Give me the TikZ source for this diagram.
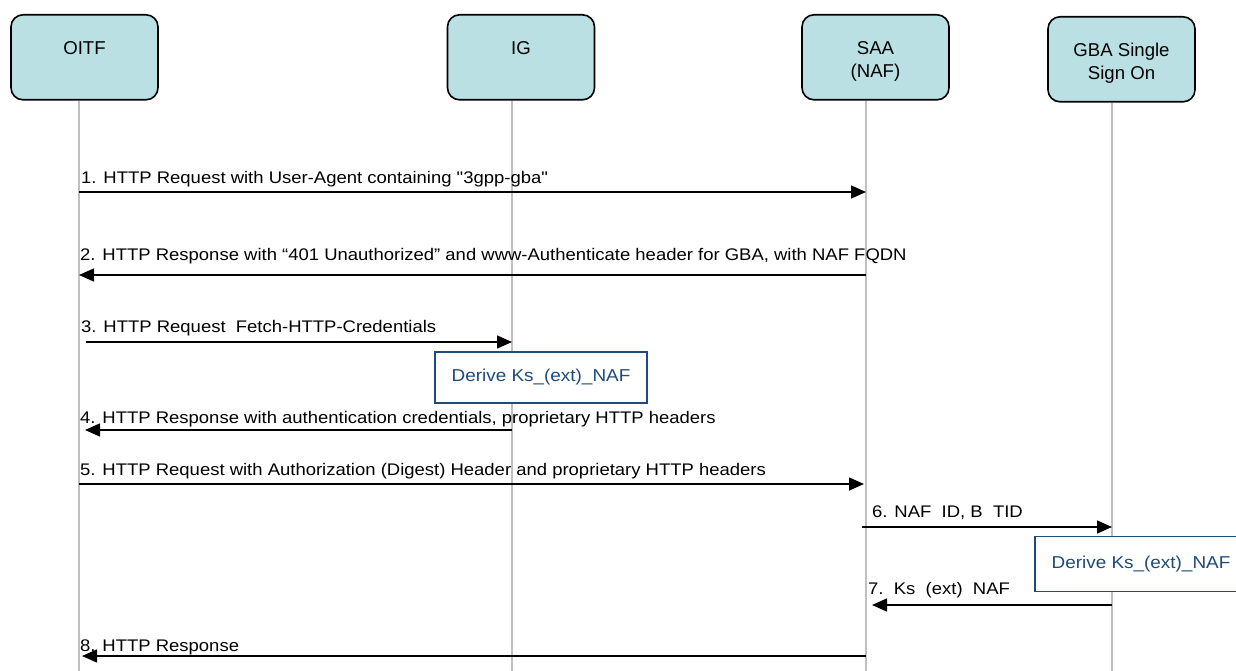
\documentclass[tikz,border=0pt]{standalone}
\usepackage{fontspec}
\setmainfont{Liberation Sans}
\newfontfamily\msgfont[FakeStretch=1.1]{Liberation Sans}
\usetikzlibrary{arrows.meta}

\definecolor{entityfill}{HTML}{BAE0E3}
\definecolor{lifegray}{HTML}{C0C0C0}
\definecolor{deriveblue}{HTML}{1F4A7A}

\tikzset{
  entity/.style={draw, line width=1.6pt, fill=entityfill, rounded corners=12pt,
    minimum width=147pt, inner xsep=0pt, inner ysep=0pt, anchor=north,
    text height=40pt, text depth=45pt, font=\fontsize{18.6}{23}\selectfont},
  lifeline/.style={draw=lifegray, line width=1.6pt},
  msg/.style={line width=1.6pt, -{Triangle[length=15pt,width=13pt]}},
  msglabel/.style={anchor=base west, inner sep=0pt, font=\msgfont\fontsize{16.8}{20}\selectfont},
  derive/.style={draw=deriveblue, fill=white, line width=1.6pt, text=deriveblue,
    minimum width=212pt, font=\msgfont\fontsize{17.2}{20}\selectfont}
}

\begin{document}
\begin{tikzpicture}[x=1pt,y=-1pt]

\useasboundingbox (0,0) rectangle (1236,671);

% entities
\node[entity] (oitf) at (84.5,14) {OITF};
\node[entity] (ig) at (521,14) {IG};
\node[entity] (saa) at (875.5,14) {\begin{tabular}[t]{@{}c@{}}SAA\\(NAF)\end{tabular}};
\node[entity] (gba) at (1121.5,16) {\begin{tabular}[t]{@{}c@{}}GBA Single\\Sign On\end{tabular}};

% lifelines
\foreach \n/\x in {oitf/79,ig/512,saa/866,gba/1112}
{
\coordinate (\n-end) at (\x,671);
\draw[lifeline] (\n-end |- \n.south) -- (\n-end);
}

% messages
\draw[msg] (oitf-end |- 0,192) -- (saa-end |- 0,192);
\draw[msg] (saa-end |- 0,275) -- (oitf-end |- 0,275);
\draw[msg] ([xshift=7pt]oitf-end |- 0,342) -- (ig-end |- 0,342);
\draw[msg] (ig-end |- 0,430) -- ([xshift=6pt]oitf-end |- 0,430);
\draw[msg] (oitf-end |- 0,484) -- ([xshift=-2pt]saa-end |- 0,484);
\draw[msg] ([xshift=-4pt]saa-end |- 0,527) -- (gba-end |- 0,527);
\draw[msg] (gba-end |- 0,605) -- ([xshift=6pt]saa-end |- 0,605);
\draw[msg] (saa-end |- 0,656) -- ([xshift=3pt]oitf-end |- 0,656);

% derivation boxes
\node[derive, minimum height=51pt] (derive1) at (541,377.5) {Derive Ks\_(ext)\_NAF};
\node[derive, minimum height=55pt] (derive2) at (1141,564) {Derive Ks\_(ext)\_NAF};

% message labels
\node[msglabel] (m1) at (81,184) {1. HTTP Request with User-Agent containing "3gpp-gba"};
\node[msglabel] (m2) at (80,260) {2. HTTP Response with “401 Unauthorized” and www-Authenticate header for GBA, with NAF FQDN};
\node[msglabel] (m3) at (81,332) {3. HTTP Request\ \ Fetch-HTTP-Credentials};
\node[msglabel] (m4) at (80,423) {4. HTTP Response with authentication credentials, proprietary HTTP headers};
\node[msglabel] (m5) at (80,475) {5. HTTP Request with Authorization (Digest) Header and proprietary HTTP headers};
\node[msglabel] (m6) at (872,517) {6. NAF\ \ ID, B\ \ TID};
\node[msglabel] (m7) at (868,594) {7.\ \ Ks\ \ (ext)\ \ NAF};
\node[msglabel] (m8) at (80,651) {8. HTTP Response};

\end{tikzpicture}
\end{document}
